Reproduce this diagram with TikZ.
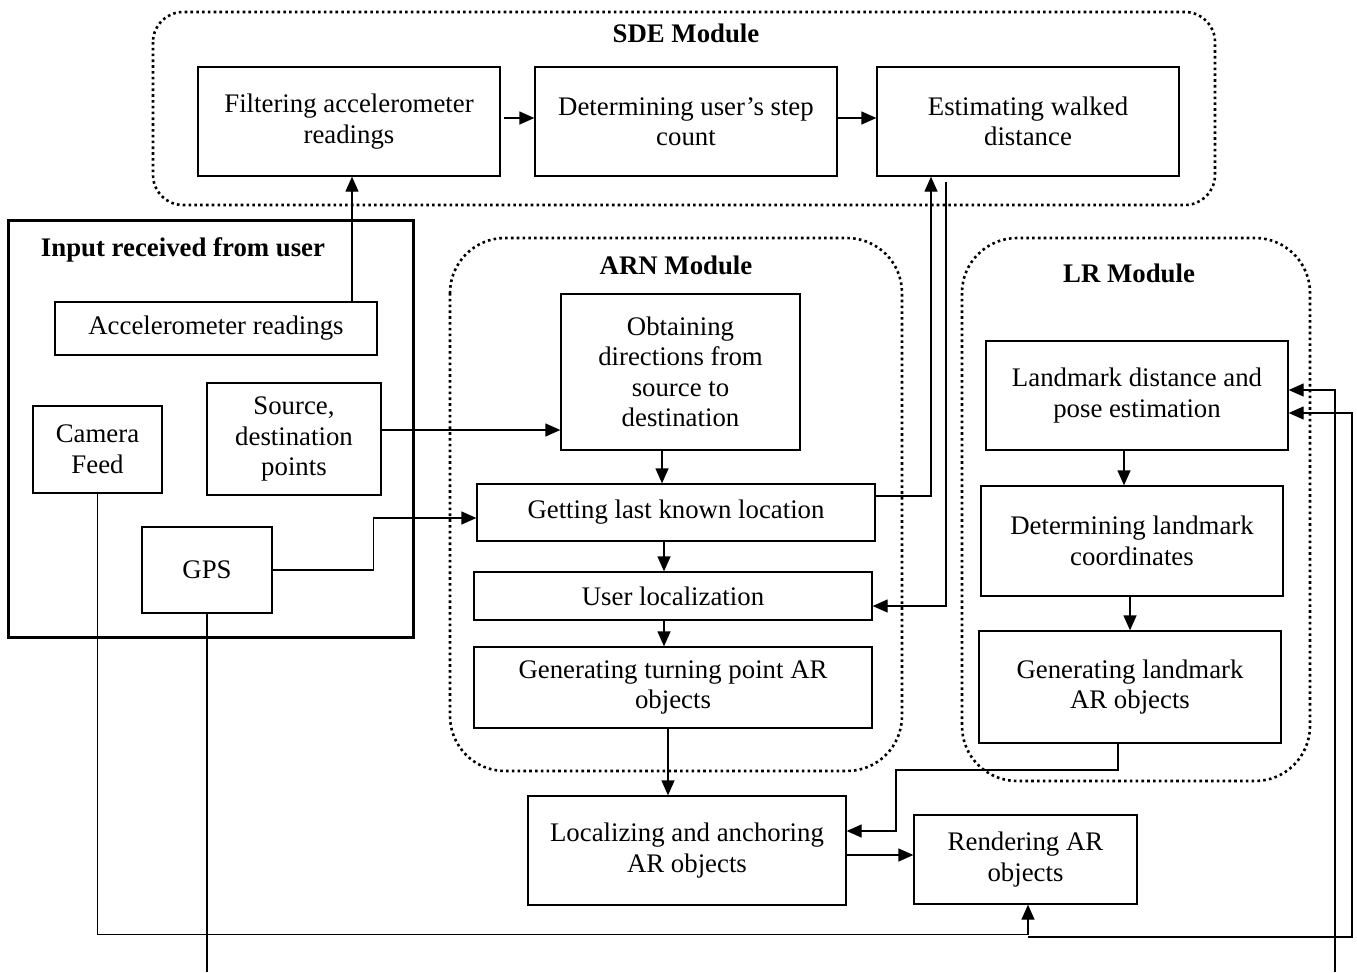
\documentclass[tikz,border=0pt]{standalone}
\usepackage{fontspec}
\setmainfont{Liberation Serif}
\usetikzlibrary{arrows.meta,calc}
\begin{document}
\begin{tikzpicture}[x=1pt,y=-1pt,
  every node/.style={font=\fontsize{26.8}{30.5}\selectfont},
  box/.style={draw,line width=1.3pt,align=center,inner sep=2pt},
  title/.style={font=\fontsize{26.8}{30.5}\selectfont\bfseries},
  module/.style={line width=2.6pt,dash pattern=on 2.6pt off 3.2pt},
  arr/.style={line width=1.3pt,-{Triangle[length=15pt,width=13pt]}},
  wire/.style={line width=1.3pt}]
\useasboundingbox (0,0) rectangle (1357,972);

% module outlines
\draw[module,rounded corners=30pt] (153,12) rectangle (1215,205);
\draw[module,rounded corners=55pt] (450,238) rectangle (902,771);
\draw[module,rounded corners=55pt] (962,238) rectangle (1310,781);
\draw[line width=3pt] (8,220) rectangle (413,637);

% titles
\node[title] (tsde) at (686,33) {SDE Module};
\node[title] (tin) at (183,250) {Input received from user};
\node[title] (tarn) at (676,265) {ARN Module};
\node[title] (tlr) at (1129,273) {LR Module};

% SDE module
\node[box,minimum width=302pt,minimum height=109pt] (filt) at (349,121.5) {Filtering accelerometer\\readings};
\node[box,minimum width=302pt,minimum height=109pt] (step) at (686,121.5) {Determining user’s step\\count};
\node[box,minimum width=302pt,minimum height=109pt] (dist) at (1028,121.5) {Estimating walked\\distance};

% inputs
\node[box,minimum width=322pt,minimum height=53pt] (acc) at (216,328.5) {Accelerometer readings};
\node[box,minimum width=129pt,minimum height=87pt] (cam) at (97.5,449.5) {Camera\\Feed};
\node[box,minimum width=174pt,minimum height=112pt] (src) at (294,439) {Source,\\destination\\points};
\node[box,minimum width=130pt,minimum height=86pt] (gps) at (207,570) {GPS};

% ARN module
\node[box,minimum width=239pt,minimum height=156pt] (obt) at (680.5,372) {Obtaining\\directions from\\source to\\destination};
\node[box,minimum width=398pt,minimum height=57pt] (last) at (676,512.5) {Getting last known location};
\node[box,minimum width=398pt,minimum height=48pt] (uloc) at (673,596) {User localization};
\node[box,minimum width=398pt,minimum height=81pt] (turn) at (673,687.5) {Generating turning point AR\\objects};

% LR module
\node[box,minimum width=302pt,minimum height=109pt] (lmd) at (1137,395.5) {Landmark distance and\\pose estimation};
\node[box,minimum width=302pt,minimum height=110pt] (lmc) at (1132,541) {Determining landmark\\coordinates};
\node[box,minimum width=302pt,minimum height=112pt] (lmar) at (1130,687) {Generating landmark\\AR objects};

% output stage
\node[box,minimum width=318pt,minimum height=109pt] (anch) at (687,850.5) {Localizing and anchoring\\AR objects};
\node[box,minimum width=223pt,minimum height=89pt] (rend) at (1025.5,859.5) {Rendering AR\\objects};

% free ends of connectors
\coordinate (camsplit) at (1028,937);
\coordinate (gpsout) at (207,972);
\coordinate (lrin) at (1335,972);

% SDE flow
\draw[arr] ([xshift=3pt,yshift=3.5pt]filt.east) -- ([yshift=3.5pt]step.west);
\draw[arr] ([yshift=3.5pt]step.east) -- ([yshift=3.5pt]dist.west);
\draw[arr] ([xshift=136pt]acc.north) -- ([xshift=3pt]filt.south);

% inputs into ARN
\draw[arr] ([yshift=9pt]src.east) -- ([yshift=-58pt]obt.west);
\draw[arr] (gps.east) -- ++(101,0) |- ([yshift=-5.5pt]last.west);

% ARN flow
\draw[arr] ([xshift=-18.5pt]obt.south) -- ([xshift=-14pt]last.north);
\draw[arr] ([xshift=-12pt]last.south) -- ([xshift=-9pt]uloc.north);
\draw[arr] ([xshift=-9pt]uloc.south) -- ([xshift=-9pt]turn.north);
\draw[arr] ([xshift=-5pt]turn.south) -- ([xshift=-19pt]anch.north);
\draw[arr] ([yshift=16.5pt]last.east) -| ([xshift=-97pt]dist.south);
\draw[arr] ([xshift=-82pt,yshift=-5pt]dist.south) |- ([yshift=-10pt]uloc.east);

% LR flow
\draw[arr] ([xshift=-13pt]lmd.south) -- ([xshift=-8pt]lmc.north);
\draw[arr] ([xshift=-2pt]lmc.south) -- (lmar.north);
\draw[arr] ([xshift=-12pt]lmar.south) |- (896,770) |- ([yshift=19.5pt]anch.east);

% rendering
\draw[arr] ([yshift=-4.5pt]anch.east) -- ([yshift=4.5pt]rend.west);
\draw[arr] (cam.south) -- ++(0,441) -| ([xshift=2.5pt]rend.south);
\draw[arr] (camsplit) -- (1352,937) |- ([yshift=-17.5pt]lmd.east);
\draw[wire] (gps.south) -- (gpsout);
\draw[arr] (lrin) |- ([yshift=5.5pt]lmd.east);
\end{tikzpicture}
\end{document}
